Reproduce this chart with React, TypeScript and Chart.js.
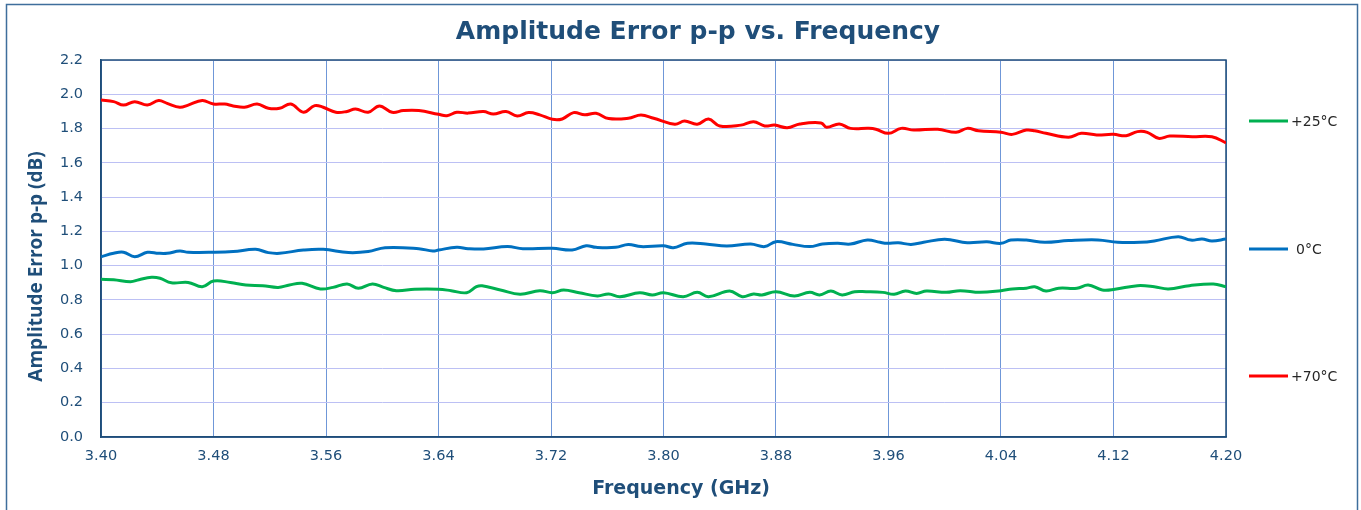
import React, { useEffect, useRef } from "react";
import { Chart, registerables } from "chart.js";

Chart.register(...registerables);

const chartTitle = "Amplitude Error p-p vs. Frequency";
const xTitle = "Frequency (GHz)";
const yTitle = "Amplitude Error p-p (dB)";

const seriesLabels = ["+25°C", "0°C", "+70°C"];
const seriesColors = ["#00B050", "#0070C0", "#FF0000"];

const greenFreq = [3.400,3.409,3.421,3.427,3.436,3.442,3.450,3.462,3.472,3.480,3.492,3.503,3.515,3.526,3.534,3.543,3.556,3.565,3.575,3.583,3.593,3.601,3.610,3.623,3.640,3.649,3.660,3.667,3.671,3.684,3.698,3.712,3.721,3.729,3.740,3.753,3.761,3.769,3.783,3.792,3.800,3.814,3.824,3.832,3.847,3.856,3.864,3.870,3.880,3.893,3.904,3.911,3.919,3.927,3.936,3.944,3.956,3.964,3.972,3.980,3.987,4.001,4.011,4.025,4.040,4.048,4.058,4.064,4.072,4.081,4.094,4.102,4.112,4.121,4.137,4.149,4.159,4.174,4.191,4.200];
const greenVals = [0.920,0.918,0.906,0.918,0.932,0.926,0.900,0.902,0.877,0.910,0.902,0.887,0.883,0.873,0.887,0.897,0.864,0.873,0.893,0.868,0.893,0.873,0.854,0.862,0.862,0.854,0.842,0.877,0.882,0.858,0.833,0.854,0.842,0.858,0.842,0.823,0.835,0.819,0.842,0.829,0.842,0.819,0.844,0.819,0.852,0.819,0.835,0.829,0.848,0.823,0.844,0.829,0.852,0.829,0.848,0.848,0.844,0.833,0.852,0.838,0.852,0.844,0.854,0.844,0.854,0.864,0.868,0.877,0.852,0.868,0.868,0.887,0.858,0.862,0.883,0.877,0.864,0.883,0.893,0.877];

const blueFreq = [3.400,3.409,3.416,3.424,3.433,3.441,3.447,3.456,3.462,3.480,3.494,3.510,3.519,3.527,3.544,3.558,3.576,3.590,3.602,3.626,3.636,3.640,3.653,3.661,3.672,3.689,3.700,3.721,3.735,3.745,3.752,3.766,3.775,3.784,3.800,3.807,3.817,3.830,3.845,3.862,3.872,3.880,3.892,3.904,3.913,3.924,3.933,3.945,3.954,3.959,3.967,3.976,3.985,4.000,4.016,4.030,4.040,4.047,4.058,4.071,4.088,4.109,4.123,4.139,4.149,4.166,4.175,4.183,4.190,4.200];
const blueVals = [1.052,1.072,1.078,1.052,1.078,1.072,1.072,1.085,1.078,1.078,1.082,1.095,1.076,1.072,1.091,1.095,1.076,1.082,1.105,1.099,1.085,1.091,1.107,1.099,1.097,1.111,1.099,1.101,1.091,1.116,1.107,1.107,1.124,1.111,1.116,1.105,1.130,1.126,1.114,1.126,1.111,1.140,1.124,1.111,1.126,1.130,1.126,1.150,1.136,1.130,1.133,1.124,1.136,1.154,1.134,1.139,1.130,1.149,1.149,1.136,1.146,1.150,1.136,1.136,1.144,1.169,1.149,1.155,1.144,1.155];

const redFreq = [3.400,3.409,3.416,3.424,3.433,3.441,3.447,3.456,3.462,3.472,3.480,3.488,3.494,3.502,3.511,3.519,3.527,3.535,3.544,3.552,3.558,3.567,3.575,3.581,3.590,3.598,3.607,3.615,3.626,3.640,3.646,3.653,3.661,3.672,3.679,3.688,3.696,3.704,3.712,3.721,3.728,3.736,3.744,3.752,3.761,3.775,3.784,3.793,3.808,3.815,3.824,3.832,3.840,3.855,3.864,3.872,3.879,3.888,3.897,3.912,3.916,3.925,3.933,3.946,3.951,3.960,3.969,3.978,3.995,4.008,4.016,4.024,4.040,4.048,4.058,4.064,4.072,4.088,4.097,4.108,4.120,4.129,4.137,4.144,4.152,4.160,4.176,4.190,4.200];
const redVals = [1.967,1.957,1.937,1.957,1.937,1.963,1.947,1.924,1.937,1.963,1.943,1.943,1.932,1.924,1.943,1.918,1.918,1.943,1.895,1.934,1.924,1.895,1.900,1.914,1.895,1.932,1.895,1.905,1.905,1.883,1.875,1.895,1.890,1.899,1.885,1.899,1.873,1.893,1.880,1.854,1.856,1.893,1.880,1.889,1.858,1.860,1.879,1.860,1.825,1.844,1.825,1.856,1.815,1.820,1.840,1.815,1.820,1.805,1.827,1.833,1.807,1.827,1.801,1.801,1.796,1.772,1.801,1.791,1.796,1.778,1.801,1.787,1.778,1.766,1.791,1.787,1.772,1.749,1.772,1.763,1.766,1.758,1.782,1.778,1.743,1.756,1.752,1.752,1.717];

const xMin = 3.4;
const xMax = 4.2;
const xStep = 0.08;
const yMin = 0;
const yMax = 2.2;
const yStep = 0.2;

const NAVY = "#1F4E79";

function toPoints(xs: number[], ys: number[]) {
  return xs.map((x, i) => ({ x, y: ys[i] }));
}

const decorPlugin = {
  id: "decor",
  beforeDatasetsDraw(chart: any) {
    const { ctx, chartArea } = chart;
    ctx.save();
    ctx.strokeStyle = NAVY;
    ctx.lineWidth = 1.5;
    ctx.strokeRect(chartArea.left, chartArea.top, chartArea.right - chartArea.left, chartArea.bottom - chartArea.top);
    ctx.restore();
  },
  afterDraw(chart: any) {
    const { ctx } = chart;
    ctx.save();
    // outer frame
    ctx.strokeStyle = "#3E6E9C";
    ctx.lineWidth = 1.5;
    ctx.strokeRect(6.5, 4.5, 1351, 520);
    // chart title
    ctx.fillStyle = NAVY;
    ctx.textAlign = "center";
    ctx.textBaseline = "alphabetic";
    ctx.font = "bold 25px 'DejaVu Sans'";
    ctx.fillText(chartTitle, 698, 39);
    // x title
    ctx.font = "bold 19px 'DejaVu Sans'";
    ctx.fillText(xTitle, 681, 494);
    // y title
    ctx.save();
    ctx.translate(42, 266.5);
    ctx.rotate(-Math.PI / 2);
    ctx.font = "bold 19px 'Open Sans'";
    ctx.fillText(yTitle, 0, 0);
    ctx.restore();
    // legend
    const legendY = [121, 249, 376];
    ctx.textAlign = "left";
    ctx.textBaseline = "middle";
    ctx.font = "14px 'DejaVu Sans'";
    chart.data.datasets.forEach((ds: any, i: number) => {
      const y = legendY[i];
      ctx.strokeStyle = ds.borderColor;
      ctx.lineWidth = 3;
      ctx.beginPath();
      ctx.moveTo(1249, y);
      ctx.lineTo(1288, y);
      ctx.stroke();
      ctx.fillStyle = "#262626";
      ctx.fillText(ds.label, ds.label === "0°C" ? 1296 : 1291, y + 1);
    });
    ctx.restore();
  },
};

export default function App() {
  const canvasRef = useRef<HTMLCanvasElement | null>(null);

  useEffect(() => {
    if (!canvasRef.current) return;
    const series = [
      toPoints(greenFreq, greenVals),
      toPoints(blueFreq, blueVals),
      toPoints(redFreq, redVals),
    ];
    const chart = new Chart(canvasRef.current, {
      type: "line",
      data: {
        datasets: series.map((pts, i) => ({
          label: seriesLabels[i],
          data: pts,
          borderColor: seriesColors[i],
          backgroundColor: seriesColors[i],
          borderWidth: 3,
          pointRadius: 0,
          tension: 0.4,
          fill: false,
        })),
      },
      options: {
        responsive: false,
        devicePixelRatio: 1,
        animation: false,
        layout: { padding: { left: 0, top: 60, right: 135, bottom: 0 } },
        plugins: {
          legend: { display: false },
          title: { display: false },
          tooltip: { enabled: false },
        },
        scales: {
          x: {
            type: "linear",
            min: xMin,
            max: xMax,
            afterFit: (s: any) => { s.height = 73; },
            ticks: {
              stepSize: xStep,
              autoSkip: false,
              maxRotation: 0,
              padding: 11,
              color: NAVY,
              font: { family: "'DejaVu Sans'", size: 14.5 },
              callback: (v: any) => Number(v).toFixed(2),
            },
            grid: { color: "#6F97D8", lineWidth: 1, drawTicks: false },
            border: { color: NAVY, width: 1.5 },
          },
          y: {
            min: yMin,
            max: yMax,
            afterFit: (s: any) => { s.width = 101; },
            ticks: {
              stepSize: yStep,
              padding: 18,
              color: NAVY,
              font: { family: "'DejaVu Sans'", size: 14.5 },
              callback: (v: any) => Number(v).toFixed(1),
            },
            grid: { color: "#BCC0F4", lineWidth: 1, drawTicks: false },
            border: { color: NAVY, width: 1.5 },
          },
        },
      },
      plugins: [decorPlugin],
    } as any);
    return () => chart.destroy();
  }, []);

  return (
    <div style={{ position: "fixed", left: 0, top: 0, width: 1361, height: 510, background: "#fff" }}>
      <canvas ref={canvasRef} width={1361} height={510} style={{ display: "block" }} />
    </div>
  );
}
